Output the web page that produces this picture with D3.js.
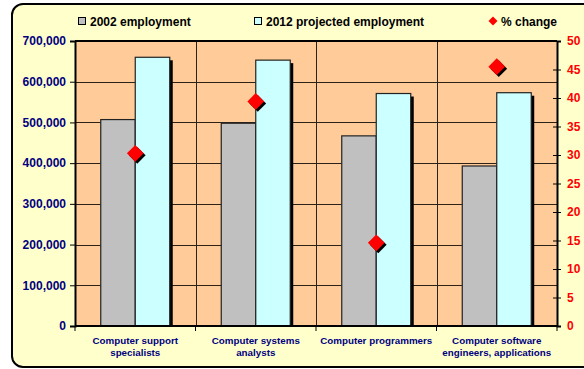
<!DOCTYPE html>
<html>
<head>
<meta charset="utf-8">
<script src="https://cdn.jsdelivr.net/npm/d3@7"></script>
<style>
  body { margin: 0; background: #fff; }
  svg { display: block; font-family: "Liberation Sans", Arial, sans-serif; }
</style>
</head>
<body>
<svg id="chart" width="584" height="369"></svg>
<script>
// data
const categories = [
  ["Computer support", "specialists"],
  ["Computer systems", "analysts"],
  ["Computer programmers"],
  ["Computer software", "engineers, applications"]
];
const employment2002 = [507000, 498000, 467000, 393000];
const employment2012 = [660000, 653000, 571000, 573000];
const pctChange = [30.3, 39.4, 14.6, 45.5];
const leftTicks = [0, 100000, 200000, 300000, 400000, 500000, 600000, 700000];
const rightTicks = d3.range(0, 51, 5);

const svg = d3.select("#chart");
const margin = { top: 41, right: 27, bottom: 43, left: 75 },
  width = 584 - margin.left - margin.right,
  height = 369 - margin.top - margin.bottom;

// outer panel
svg.append("rect")
  .attr("x", 12).attr("y", 4)
  .attr("width", 600).attr("height", 363)
  .attr("rx", 11).attr("ry", 11)
  .attr("fill", "#FFFFCC")
  .attr("stroke", "#000")
  .attr("stroke-width", 2);

const g = svg.append("g").attr("transform", `translate(${margin.left},${margin.top})`);

const x = d3.scaleBand().domain(d3.range(categories.length)).range([0, width]);
const y = d3.scaleLinear().domain([0, 700000]).range([height, 0]);
const y2 = d3.scaleLinear().domain([0, 50]).range([height, 0]);
const barW = 34.5;

// plot background
g.append("rect")
  .attr("width", width).attr("height", height)
  .attr("fill", "#FFCC99");

// grid
g.selectAll(".hgrid")
  .data(leftTicks.slice(1))
  .join("line")
  .attr("x1", 0).attr("x2", width)
  .attr("y1", (d) => Math.round(y(d)) + 0.5)
  .attr("y2", (d) => Math.round(y(d)) + 0.5)
  .attr("stroke", "#2e2216")
  .attr("stroke-width", 1);

g.selectAll(".vgrid")
  .data(d3.range(1, categories.length))
  .join("line")
  .attr("x1", (d) => Math.round(x(d)) + 0.5)
  .attr("x2", (d) => Math.round(x(d)) + 0.5)
  .attr("y1", 0).attr("y2", height)
  .attr("stroke", "#2e2216")
  .attr("stroke-width", 1);

// bar shadows
const series = [
  { values: employment2002, fill: "#C0C0C0", off: 0 },
  { values: employment2012, fill: "#CCFFFF", off: 1 }
];
series.forEach((s) => {
  g.selectAll(null)
    .data(s.values)
    .join("rect")
    .attr("x", (d, i) => x(i) + x.bandwidth() / 2 - barW + s.off * barW + 3)
    .attr("y", (d) => y(d) + 3)
    .attr("width", barW)
    .attr("height", (d) => height - y(d) - 3)
    .attr("fill", "#000");
});
series.forEach((s) => {
  g.selectAll(null)
    .data(s.values)
    .join("rect")
    .attr("x", (d, i) => x(i) + x.bandwidth() / 2 - barW + s.off * barW)
    .attr("y", (d) => y(d))
    .attr("width", barW)
    .attr("height", (d) => height - y(d))
    .attr("fill", s.fill)
    .attr("stroke", "#222")
    .attr("stroke-width", 1.2);
});

// diamonds
const diamond = d3.symbol().type(d3.symbolSquare).size(140);
g.selectAll(".dshadow")
  .data(pctChange)
  .join("path")
  .attr("d", diamond)
  .attr("transform", (d, i) => `translate(${x(i) + x.bandwidth() / 2 + 2},${y2(d) + 2}) rotate(45)`)
  .attr("fill", "#000");
g.selectAll(".dmark")
  .data(pctChange)
  .join("path")
  .attr("d", diamond)
  .attr("transform", (d, i) => `translate(${x(i) + x.bandwidth() / 2},${y2(d)}) rotate(45)`)
  .attr("fill", "#FF0000");

// plot border (top)
g.append("line")
  .attr("x1", 0).attr("x2", width)
  .attr("y1", 0).attr("y2", 0)
  .attr("stroke", "#000").attr("stroke-width", 2);

// left axis
const leftAxis = g.append("g")
  .call(d3.axisLeft(y).tickValues(leftTicks).tickFormat(d3.format(",")).tickSize(5).tickPadding(4));
leftAxis.select(".domain").attr("stroke", "#000").attr("stroke-width", 2);
leftAxis.selectAll("text")
  .attr("fill", "#000080")
  .style("font-size", "12px")
  .style("font-weight", "bold");

// right axis
const rightAxis = g.append("g")
  .attr("transform", `translate(${width},0)`)
  .call(d3.axisRight(y2).tickValues(rightTicks).tickSize(4).tickPadding(6));
rightAxis.select(".domain").attr("stroke", "#000").attr("stroke-width", 2);
rightAxis.selectAll(".tick line").attr("x1", -4);
rightAxis.selectAll("text")
  .attr("fill", "#FF0000")
  .style("font-size", "12px")
  .style("font-weight", "bold");

// bottom axis
const bottomAxis = g.append("g").attr("transform", `translate(0,${height})`);
bottomAxis.append("line")
  .attr("x1", 0).attr("x2", width)
  .attr("stroke", "#000").attr("stroke-width", 2);
bottomAxis.selectAll(".btick")
  .data(d3.range(0, categories.length + 1))
  .join("line")
  .attr("x1", (d) => (d === categories.length ? width : x(d)))
  .attr("x2", (d) => (d === categories.length ? width : x(d)))
  .attr("y1", 0).attr("y2", 5)
  .attr("stroke", "#000");
const catText = bottomAxis.selectAll(".cat")
  .data(categories)
  .join("text")
  .attr("x", (d, i) => x(i) + x.bandwidth() / 2)
  .attr("y", 18)
  .attr("text-anchor", "middle")
  .attr("fill", "#000080")
  .style("font-size", "9.8px")
  .style("font-weight", "bold");
catText.selectAll("tspan")
  .data((d) => d)
  .join("tspan")
  .attr("x", function () { return this.parentNode.getAttribute("x"); })
  .attr("dy", (d, i) => (i === 0 ? 0 : 12))
  .text((d) => d);

// legend
const legendItems = [
  { label: "2002 employment", fill: "#C0C0C0", type: "square", x: 78 },
  { label: "2012 projected employment", fill: "#CCFFFF", type: "square", x: 254 },
  { label: "% change", fill: "#FF0000", type: "diamond", x: 489 }
];
const legend = svg.selectAll(".legend")
  .data(legendItems)
  .join("g")
  .attr("transform", (d) => `translate(${d.x},21)`);
legend.filter((d) => d.type === "square")
  .append("rect")
  .attr("x", 0.5).attr("y", -3.5)
  .attr("width", 7).attr("height", 7)
  .attr("fill", (d) => d.fill)
  .attr("stroke", "#000");
legend.filter((d) => d.type === "diamond")
  .append("path")
  .attr("d", d3.symbol().type(d3.symbolSquare).size(40))
  .attr("transform", "translate(4,0) rotate(45)")
  .attr("fill", (d) => d.fill);
legend.append("text")
  .attr("x", 12)
  .attr("y", 4.5)
  .attr("fill", "#000")
  .style("font-size", "12px")
  .style("font-weight", "bold")
  .text((d) => d.label);
</script>
</body>
</html>
